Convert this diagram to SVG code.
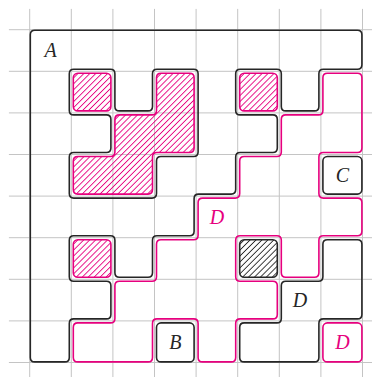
<svg xmlns="http://www.w3.org/2000/svg" width="372" height="377" viewBox="0 0 372 377">
<defs>
<style>
.grid{stroke:#c4c4c4;stroke-width:1;fill:none}
.blk{fill:none;stroke:#262626;stroke-width:1.6}
.pnk{fill:none;stroke:#e6007e;stroke-width:1.6}
.hp{fill:url(#hatchP);stroke:#e6007e;stroke-width:1.6}
.hk{fill:url(#hatchK);stroke:#262626;stroke-width:1.6}
.lbl{font-family:"Liberation Serif",serif;font-style:italic;font-size:20px;text-anchor:middle}
.lk{fill:#262626}
.lp{fill:#e6007e}
</style>
<pattern id="hatchP" patternUnits="userSpaceOnUse" width="4.2" height="4.2" patternTransform="rotate(45)"><line x1="2.1" y1="-1" x2="2.1" y2="5.2" stroke="#e6007e" stroke-width="0.9"/></pattern>
<pattern id="hatchK" patternUnits="userSpaceOnUse" width="4.2" height="4.2" patternTransform="rotate(45)"><line x1="2.1" y1="-1" x2="2.1" y2="5.2" stroke="#262626" stroke-width="0.9"/></pattern>
</defs>
<rect width="372" height="377" fill="#fff"/>
<g id="grid" class="grid">
<path d="M29.7 8.9V383.3M71.3 8.9V383.3M112.9 8.9V383.3M154.5 8.9V383.3M196.1 8.9V383.3M237.7 8.9V383.3M279.3 8.9V383.3M320.9 8.9V383.3M362.5 8.9V383.3"/>
<path d="M8.9 29.7H383.3M8.9 71.3H383.3M8.9 112.9H383.3M8.9 154.5H383.3M8.9 196.1H383.3M8.9 237.7H383.3M8.9 279.3H383.3M8.9 320.9H383.3M8.9 362.5H383.3"/>
</g>
<g id="region-A">
<path class="blk" d="M34.8 30.3 L357.4 30.3 Q361.9 30.3 361.9 34.8 L361.9 64.8 Q361.9 69.3 357.4 69.3 L323.4 69.3 Q318.9 69.3 318.9 73.8 L318.9 106.4 Q318.9 110.9 314.4 110.9 L285.8 110.9 Q281.3 110.9 281.3 106.4 L281.3 73.8 Q281.3 69.3 276.8 69.3 L240.2 69.3 Q235.7 69.3 235.7 73.8 L235.7 110.4 Q235.7 114.9 240.2 114.9 L272.8 114.9 Q277.3 114.9 277.3 119.4 L277.3 148 Q277.3 152.5 272.8 152.5 L240.2 152.5 Q235.7 152.5 235.7 157 L235.7 189.6 Q235.7 194.1 231.2 194.1 L198.6 194.1 Q194.1 194.1 194.1 198.6 L194.1 231.2 Q194.1 235.7 189.6 235.7 L157 235.7 Q152.5 235.7 152.5 240.2 L152.5 272.8 Q152.5 277.3 148 277.3 L119.4 277.3 Q114.9 277.3 114.9 272.8 L114.9 240.2 Q114.9 235.7 110.4 235.7 L73.8 235.7 Q69.3 235.7 69.3 240.2 L69.3 276.8 Q69.3 281.3 73.8 281.3 L106.4 281.3 Q110.9 281.3 110.9 285.8 L110.9 314.4 Q110.9 318.9 106.4 318.9 L73.8 318.9 Q69.3 318.9 69.3 323.4 L69.3 357.4 Q69.3 361.9 64.8 361.9 L34.8 361.9 Q30.3 361.9 30.3 357.4 L30.3 34.8 Q30.3 30.3 34.8 30.3 Z"/>
<path class="blk" d="M73.8 69.3 L110.4 69.3 Q114.9 69.3 114.9 73.8 L114.9 106.4 Q114.9 110.9 119.4 110.9 L148 110.9 Q152.5 110.9 152.5 106.4 L152.5 73.8 Q152.5 69.3 157 69.3 L193.6 69.3 Q198.1 69.3 198.1 73.8 L198.1 152 Q198.1 156.5 193.6 156.5 L161 156.5 Q156.5 156.5 156.5 161 L156.5 193.6 Q156.5 198.1 152 198.1 L73.8 198.1 Q69.3 198.1 69.3 193.6 L69.3 157 Q69.3 152.5 73.8 152.5 L106.4 152.5 Q110.9 152.5 110.9 148 L110.9 119.4 Q110.9 114.9 106.4 114.9 L73.8 114.9 Q69.3 114.9 69.3 110.4 L69.3 73.8 Q69.3 69.3 73.8 69.3 Z"/>
<text class="lbl lk" x="50.5" y="57">A</text>
</g>
<g id="hatched-1"><rect class="hp" x="73.3" y="73.3" width="37.6" height="37.6" rx="4.5"/></g>
<g id="hatched-2"><path class="hp" d="M161 73.3 L189.6 73.3 Q194.1 73.3 194.1 77.8 L194.1 148 Q194.1 152.5 189.6 152.5 L157 152.5 Q152.5 152.5 152.5 157 L152.5 189.6 Q152.5 194.1 148 194.1 L77.8 194.1 Q73.3 194.1 73.3 189.6 L73.3 161 Q73.3 156.5 77.8 156.5 L110.4 156.5 Q114.9 156.5 114.9 152 L114.9 119.4 Q114.9 114.9 119.4 114.9 L152 114.9 Q156.5 114.9 156.5 110.4 L156.5 77.8 Q156.5 73.3 161 73.3 Z"/></g>
<g id="hatched-3"><rect class="hp" x="239.7" y="73.3" width="37.6" height="37.6" rx="4.5"/></g>
<g id="hatched-4"><rect class="hp" x="73.3" y="239.7" width="37.6" height="37.6" rx="4.5"/></g>
<g id="hatched-black"><rect class="hk" x="239.7" y="239.7" width="37.6" height="37.6" rx="4.5"/></g>
<g id="region-D">
<path class="pnk" d="M327.4 73.3 L357.4 73.3 Q361.9 73.3 361.9 77.8 L361.9 148 Q361.9 152.5 357.4 152.5 L323.4 152.5 Q318.9 152.5 318.9 157 L318.9 193.6 Q318.9 198.1 323.4 198.1 L357.4 198.1 Q361.9 198.1 361.9 202.6 L361.9 231.2 Q361.9 235.7 357.4 235.7 L323.4 235.7 Q318.9 235.7 318.9 240.2 L318.9 272.8 Q318.9 277.3 314.4 277.3 L285.8 277.3 Q281.3 277.3 281.3 272.8 L281.3 240.2 Q281.3 235.7 276.8 235.7 L240.2 235.7 Q235.7 235.7 235.7 240.2 L235.7 276.8 Q235.7 281.3 240.2 281.3 L272.8 281.3 Q277.3 281.3 277.3 285.8 L277.3 314.4 Q277.3 318.9 272.8 318.9 L240.2 318.9 Q235.7 318.9 235.7 323.4 L235.7 357.4 Q235.7 361.9 231.2 361.9 L202.6 361.9 Q198.1 361.9 198.1 357.4 L198.1 323.4 Q198.1 318.9 193.6 318.9 L157 318.9 Q152.5 318.9 152.5 323.4 L152.5 357.4 Q152.5 361.9 148 361.9 L77.8 361.9 Q73.3 361.9 73.3 357.4 L73.3 327.4 Q73.3 322.9 77.8 322.9 L110.4 322.9 Q114.9 322.9 114.9 318.4 L114.9 285.8 Q114.9 281.3 119.4 281.3 L152 281.3 Q156.5 281.3 156.5 276.8 L156.5 244.2 Q156.5 239.7 161 239.7 L193.6 239.7 Q198.1 239.7 198.1 235.2 L198.1 202.6 Q198.1 198.1 202.6 198.1 L235.2 198.1 Q239.7 198.1 239.7 193.6 L239.7 161 Q239.7 156.5 244.2 156.5 L276.8 156.5 Q281.3 156.5 281.3 152 L281.3 119.4 Q281.3 114.9 285.8 114.9 L318.4 114.9 Q322.9 114.9 322.9 110.4 L322.9 77.8 Q322.9 73.3 327.4 73.3 Z"/>
<text class="lbl lp" x="216.9" y="223.5">D</text>
</g>
<g id="region-C">
<rect class="blk" x="322.9" y="156.5" width="39" height="37.6" rx="4.5"/>
<text class="lbl lk" x="342.4" y="181.8">C</text>
</g>
<g id="region-B">
<rect class="blk" x="156.5" y="322.9" width="37.6" height="39" rx="4.5"/>
<text class="lbl lk" x="175.3" y="348.9">B</text>
</g>
<g id="region-D-black">
<path class="blk" d="M327.4 239.7 L357.4 239.7 Q361.9 239.7 361.9 244.2 L361.9 314.4 Q361.9 318.9 357.4 318.9 L323.4 318.9 Q318.9 318.9 318.9 323.4 L318.9 357.4 Q318.9 361.9 314.4 361.9 L244.2 361.9 Q239.7 361.9 239.7 357.4 L239.7 327.4 Q239.7 322.9 244.2 322.9 L276.8 322.9 Q281.3 322.9 281.3 318.4 L281.3 285.8 Q281.3 281.3 285.8 281.3 L318.4 281.3 Q322.9 281.3 322.9 276.8 L322.9 244.2 Q322.9 239.7 327.4 239.7 Z"/>
<text class="lbl lk" x="300.1" y="306.6">D</text>
</g>
<g id="region-D-small">
<rect class="pnk" x="322.9" y="322.9" width="39" height="39" rx="4.5"/>
<text class="lbl lp" x="342.4" y="348.9">D</text>
</g>
<g id="connectors"/>
</svg>
